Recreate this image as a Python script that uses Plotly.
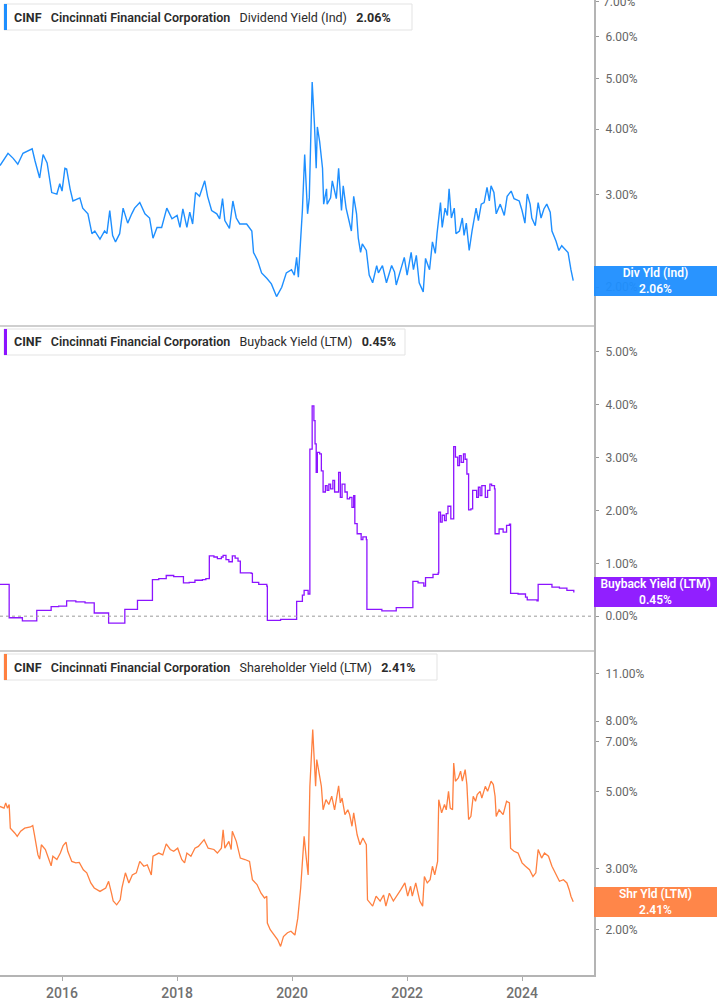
import numpy as np
import pandas as pd
import plotly.graph_objects as go
from plotly.subplots import make_subplots

# values; dates are decimal years
div_dates = [2014.92, 2015.06, 2015.15, 2015.23, 2015.32, 2015.48, 2015.53, 2015.61, 2015.67, 2015.74,
             2015.82, 2015.91, 2015.96, 2016.00, 2016.05, 2016.08, 2016.14, 2016.19, 2016.31, 2016.36,
             2016.45, 2016.52, 2016.57, 2016.66, 2016.74, 2016.78, 2016.83, 2016.86, 2016.88, 2016.93,
             2017.00, 2017.06, 2017.12, 2017.14, 2017.21, 2017.26, 2017.35, 2017.44, 2017.52, 2017.58,
             2017.65, 2017.73, 2017.82, 2017.91, 2018.00, 2018.05, 2018.10, 2018.17, 2018.22, 2018.27,
             2018.32, 2018.39, 2018.48, 2018.53, 2018.60, 2018.69, 2018.74, 2018.79, 2018.83, 2018.91,
             2018.97, 2019.03, 2019.09, 2019.21, 2019.30, 2019.33, 2019.40, 2019.47, 2019.56, 2019.64,
             2019.73, 2019.82, 2019.90, 2019.99, 2020.04, 2020.08, 2020.11, 2020.16, 2020.18, 2020.22,
             2020.25, 2020.27, 2020.30, 2020.34, 2020.35, 2020.39, 2020.42, 2020.44, 2020.48, 2020.53,
             2020.55, 2020.60, 2020.61, 2020.67, 2020.70, 2020.77, 2020.81, 2020.86, 2020.89, 2020.94,
             2021.03, 2021.07, 2021.12, 2021.15, 2021.19, 2021.22, 2021.29, 2021.34, 2021.40, 2021.47,
             2021.50, 2021.57, 2021.64, 2021.73, 2021.78, 2021.81, 2021.90, 2021.95, 2022.00, 2022.07,
             2022.11, 2022.16, 2022.21, 2022.28, 2022.32, 2022.39, 2022.44, 2022.49, 2022.52, 2022.58,
             2022.61, 2022.66, 2022.70, 2022.73, 2022.77, 2022.82, 2022.85, 2022.91, 2022.96, 2022.99,
             2023.03, 2023.08, 2023.13, 2023.20, 2023.24, 2023.29, 2023.34, 2023.39, 2023.43, 2023.46,
             2023.51, 2023.55, 2023.62, 2023.69, 2023.74, 2023.81, 2023.86, 2023.95, 2024.00, 2024.05,
             2024.09, 2024.14, 2024.17, 2024.23, 2024.28, 2024.33, 2024.38, 2024.43, 2024.49, 2024.52,
             2024.59, 2024.64, 2024.69, 2024.76, 2024.80, 2024.85, 2024.89]
div_yield = [3.41, 3.60, 3.52, 3.43, 3.60, 3.67, 3.48, 3.23, 3.58, 3.45,
             3.03, 3.01, 3.15, 3.05, 3.37, 3.36, 3.08, 2.92, 2.96, 2.83,
             2.76, 2.53, 2.56, 2.47, 2.56, 2.53, 2.80, 2.64, 2.51, 2.44,
             2.53, 2.83, 2.71, 2.65, 2.76, 2.83, 2.90, 2.76, 2.71, 2.48,
             2.60, 2.60, 2.83, 2.70, 2.74, 2.60, 2.82, 2.60, 2.78, 2.64,
             3.03, 2.98, 3.19, 2.98, 2.80, 2.76, 2.70, 2.95, 2.68, 2.59,
             2.92, 2.71, 2.64, 2.64, 2.56, 2.33, 2.25, 2.13, 2.08, 2.03,
             1.92, 2.00, 2.13, 2.16, 2.11, 2.28, 2.09, 2.56, 2.80, 3.58,
             3.05, 2.76, 2.96, 4.48, 4.92, 4.08, 3.37, 4.04, 3.79, 3.37,
             2.88, 3.08, 2.88, 2.96, 3.19, 2.95, 3.37, 2.80, 3.12, 2.83,
             2.56, 2.98, 2.76, 2.48, 2.33, 2.42, 2.35, 2.11, 2.04, 2.20,
             2.13, 2.20, 2.04, 2.20, 2.14, 2.02, 2.19, 2.28, 2.11, 2.33,
             2.16, 2.30, 2.04, 1.96, 2.27, 2.16, 2.44, 2.32, 2.53, 2.90,
             2.60, 2.83, 2.74, 3.08, 2.71, 2.83, 2.53, 2.56, 2.71, 2.51,
             2.65, 2.35, 2.56, 2.83, 2.68, 2.88, 2.90, 3.10, 2.92, 3.12,
             3.03, 2.76, 2.88, 2.74, 2.98, 3.05, 2.95, 2.92, 2.80, 2.65,
             3.01, 2.88, 2.71, 2.62, 2.90, 2.71, 2.82, 2.88, 2.78, 2.56,
             2.45, 2.35, 2.40, 2.35, 2.33, 2.16, 2.06]

bb_dates = [2014.92, 2015.08, 2015.31, 2015.56, 2015.81, 2015.94, 2016.08, 2016.24, 2016.40, 2016.56,
            2016.81, 2017.09, 2017.31, 2017.57, 2017.68, 2017.81, 2017.94, 2018.11, 2018.21, 2018.31,
            2018.44, 2018.50, 2018.56, 2018.64, 2018.70, 2018.77, 2018.80, 2018.85, 2018.90, 2018.96,
            2019.01, 2019.06, 2019.10, 2019.29, 2019.31, 2019.42, 2019.56, 2019.57, 2019.80, 2020.08,
            2020.18, 2020.21, 2020.28, 2020.31, 2020.35, 2020.38, 2020.40, 2020.42, 2020.44, 2020.48,
            2020.51, 2020.54, 2020.58, 2020.61, 2020.64, 2020.67, 2020.71, 2020.74, 2020.81, 2020.84,
            2020.87, 2020.92, 2020.96, 2021.00, 2021.04, 2021.07, 2021.09, 2021.13, 2021.20, 2021.23,
            2021.29, 2021.30, 2021.56, 2021.81, 2022.10, 2022.19, 2022.29, 2022.32, 2022.45, 2022.54,
            2022.55, 2022.58, 2022.61, 2022.65, 2022.68, 2022.71, 2022.76, 2022.81, 2022.84, 2022.88,
            2022.91, 2022.94, 2022.98, 2023.01, 2023.04, 2023.07, 2023.11, 2023.14, 2023.21, 2023.24,
            2023.27, 2023.30, 2023.36, 2023.40, 2023.44, 2023.47, 2023.52, 2023.53, 2023.60, 2023.67,
            2023.73, 2023.78, 2023.80, 2023.93, 2024.06, 2024.09, 2024.26, 2024.28, 2024.39, 2024.52,
            2024.65, 2024.78, 2024.90]
bb_yield = [0.60, -0.03, -0.09, 0.11, 0.18, 0.19, 0.29, 0.27, 0.25, 0.06,
            -0.13, 0.13, 0.30, 0.69, 0.71, 0.77, 0.75, 0.63, 0.64, 0.68,
            0.69, 0.71, 1.14, 1.12, 1.09, 1.12, 1.15, 1.07, 1.03, 1.14,
            1.10, 1.04, 0.82, 0.81, 0.64, 0.60, 0.57, -0.08, -0.06, 0.28,
            0.40, 0.49, 0.42, 3.16, 3.98, 3.70, 3.26, 2.72, 3.10, 3.07,
            2.75, 2.35, 2.47, 2.38, 2.50, 2.41, 2.57, 2.35, 2.72, 2.25,
            2.50, 2.35, 2.22, 2.25, 2.06, 2.28, 1.75, 1.56, 1.45, 1.50,
            1.45, 0.13, 0.10, 0.16, 0.66, 0.63, 0.57, 0.73, 0.79, 0.82,
            1.97, 1.78, 1.91, 1.81, 1.94, 2.08, 1.84, 3.21, 3.01, 2.85,
            3.04, 2.91, 3.07, 2.97, 2.69, 2.01, 2.03, 2.38, 2.25, 2.44,
            2.28, 2.47, 2.25, 2.38, 2.50, 2.47, 2.41, 1.56, 1.65, 1.59,
            1.72, 1.74, 0.43, 0.42, 0.36, 0.31, 0.29, 0.60, 0.60, 0.55,
            0.53, 0.49, 0.45]

shr_dates = [2014.92, 2014.99, 2015.02, 2015.05, 2015.08, 2015.10, 2015.18, 2015.22, 2015.28, 2015.35,
             2015.45, 2015.49, 2015.52, 2015.58, 2015.61, 2015.64, 2015.71, 2015.77, 2015.81, 2015.84,
             2015.91, 2015.97, 2016.02, 2016.07, 2016.10, 2016.17, 2016.24, 2016.30, 2016.37, 2016.43,
             2016.50, 2016.56, 2016.66, 2016.76, 2016.81, 2016.86, 2016.89, 2016.95, 2017.01, 2017.04,
             2017.10, 2017.16, 2017.22, 2017.29, 2017.35, 2017.42, 2017.48, 2017.55, 2017.58, 2017.68,
             2017.75, 2017.81, 2017.88, 2017.94, 2018.01, 2018.08, 2018.13, 2018.17, 2018.24, 2018.31,
             2018.37, 2018.47, 2018.54, 2018.64, 2018.70, 2018.77, 2018.80, 2018.83, 2018.90, 2018.94,
             2018.96, 2019.03, 2019.10, 2019.18, 2019.26, 2019.31, 2019.39, 2019.46, 2019.52, 2019.56,
             2019.57, 2019.62, 2019.69, 2019.75, 2019.80, 2019.85, 2019.92, 2019.98, 2020.05, 2020.10,
             2020.15, 2020.18, 2020.21, 2020.25, 2020.28, 2020.31, 2020.35, 2020.36, 2020.38, 2020.41,
             2020.43, 2020.46, 2020.51, 2020.54, 2020.59, 2020.64, 2020.69, 2020.74, 2020.81, 2020.84,
             2020.87, 2020.92, 2020.97, 2021.00, 2021.04, 2021.07, 2021.13, 2021.18, 2021.23, 2021.29,
             2021.31, 2021.40, 2021.46, 2021.53, 2021.59, 2021.63, 2021.69, 2021.76, 2021.82, 2021.89,
             2021.96, 2022.01, 2022.06, 2022.09, 2022.15, 2022.22, 2022.27, 2022.30, 2022.35, 2022.40,
             2022.44, 2022.48, 2022.53, 2022.55, 2022.60, 2022.65, 2022.68, 2022.72, 2022.75, 2022.79,
             2022.81, 2022.84, 2022.89, 2022.93, 2022.96, 2023.01, 2023.04, 2023.07, 2023.11, 2023.15,
             2023.19, 2023.22, 2023.27, 2023.30, 2023.36, 2023.40, 2023.46, 2023.50, 2023.53, 2023.55,
             2023.60, 2023.67, 2023.73, 2023.78, 2023.80, 2023.86, 2023.93, 2024.00, 2024.06, 2024.13,
             2024.19, 2024.24, 2024.28, 2024.34, 2024.39, 2024.46, 2024.52, 2024.59, 2024.65, 2024.72,
             2024.78, 2024.82, 2024.85, 2024.89]
shr_yield = [4.54, 4.49, 4.65, 4.49, 4.60, 3.93, 3.80, 3.72, 3.85, 3.93,
             3.96, 4.00, 3.76, 3.29, 3.20, 3.52, 3.41, 3.22, 3.06, 3.26,
             3.19, 3.33, 3.50, 3.58, 3.37, 3.15, 3.12, 3.13, 2.98, 2.92,
             2.73, 2.64, 2.58, 2.64, 2.76, 2.55, 2.42, 2.36, 2.44, 2.64,
             2.92, 2.73, 2.88, 2.92, 3.15, 3.05, 3.08, 2.88, 3.26, 3.33,
             3.29, 3.54, 3.41, 3.37, 3.44, 3.19, 3.12, 3.33, 3.26, 3.44,
             3.48, 3.64, 3.44, 3.41, 3.33, 3.44, 3.89, 3.44, 3.60, 3.41,
             3.85, 3.60, 3.22, 3.19, 3.15, 2.79, 2.70, 2.55, 2.47, 2.50,
             2.09, 2.00, 1.93, 1.87, 1.79, 1.91, 1.96, 1.98, 1.93, 2.16,
             2.64, 3.12, 3.72, 3.19, 2.88, 5.19, 6.77, 7.57, 6.48, 5.19,
             6.20, 5.80, 5.19, 4.44, 4.75, 4.60, 4.86, 4.44, 5.21, 4.65,
             4.80, 4.30, 4.44, 4.30, 3.98, 4.35, 3.76, 3.52, 3.68, 3.52,
             2.44, 2.34, 2.50, 2.42, 2.52, 2.34, 2.55, 2.42, 2.50, 2.61,
             2.73, 2.50, 2.67, 2.50, 2.73, 2.42, 2.34, 2.85, 2.73, 2.79,
             3.05, 2.88, 3.15, 4.75, 4.35, 4.60, 4.44, 5.02, 4.49, 4.44,
             6.06, 5.37, 5.49, 5.74, 5.37, 5.80, 5.25, 4.16, 4.25, 4.86,
             4.70, 4.91, 5.02, 4.80, 5.19, 5.02, 5.37, 5.25, 4.86, 4.25,
             4.44, 4.30, 4.70, 4.65, 3.44, 3.37, 3.33, 3.12, 3.05, 2.98,
             2.85, 2.92, 3.41, 3.22, 3.33, 3.26, 3.05, 2.88, 2.76, 2.79,
             2.73, 2.61, 2.50, 2.41]

div_ticks = [2, 3, 4, 5, 6, 7]
bb_ticks = [0, 1, 2, 3, 4, 5]
shr_ticks = [2, 3, 5, 7, 8, 11]

BLUE = "#1e8fff"
PURPLE = "#8c14ff"
ORANGE = "#ff8040"
AXIS = "#b4b4b4"


def to_dates(years):
    out = []
    for y in years:
        yr = int(y)
        out.append(pd.Timestamp(yr, 1, 1) + pd.Timedelta(days=(y - yr) * 365.25))
    return out


fig = make_subplots(rows=3, cols=1, shared_xaxes=True, vertical_spacing=0)

fig.add_trace(go.Scatter(x=to_dates(div_dates), y=div_yield, mode="lines",
                         line=dict(color=BLUE, width=1.4), hoverinfo="x+y"), row=1, col=1)
fig.add_trace(go.Scatter(x=to_dates(bb_dates), y=bb_yield, mode="lines",
                         line=dict(color=PURPLE, width=1.3, shape="hv"), hoverinfo="x+y"), row=2, col=1)
fig.add_trace(go.Scatter(x=to_dates(shr_dates), y=shr_yield, mode="lines",
                         line=dict(color=ORANGE, width=1.3), hoverinfo="x+y"), row=3, col=1)

yax = dict(
    side="right",
    showgrid=False,
    zeroline=False,
    showline=True,
    linecolor=AXIS,
    linewidth=2,
    ticks="outside",
    ticklen=3,
    tickwidth=1,
    tickcolor="#999999",
    ticklabelstandoff=4,
    tickfont=dict(family="Roboto", size=12, color="#666666"),
    automargin=False,
)
fig.update_yaxes(**yax)
fig.update_yaxes(type="log", range=[np.log10(1.695), np.log10(7.05)],
                 tickvals=div_ticks, ticktext=["%.2f%%" % v for v in div_ticks], row=1, col=1)
fig.update_yaxes(type="linear", range=[-0.64, 5.51],
                 tickvals=bb_ticks, ticktext=["%.2f%%" % v for v in bb_ticks], row=2, col=1)
fig.update_yaxes(type="log", range=[np.log10(1.48), np.log10(12.85)],
                 tickvals=shr_ticks, ticktext=["%.2f%%" % v for v in shr_ticks], row=3, col=1)

fig.update_xaxes(
    type="date",
    range=["2014-12-03", "2025-04-02"],
    showgrid=False,
    zeroline=False,
    showline=True,
    linecolor="#cfcfcf",
    linewidth=1.5,
    ticks="",
    showticklabels=False,
)
fig.update_xaxes(
    showline=True, linecolor=AXIS, linewidth=2,
    ticks="outside", ticklen=4, tickcolor="#aaaaaa",
    showticklabels=True, tick0="2016-01-01", dtick="M24", tickformat="%Y",
    tickfont=dict(family="Roboto", size=14, color="#707070", weight=500),
    row=3, col=1,
)

W, H = 594.0, 975.0
sp = "\u00a0" * 3

# dotted zero line of the buyback panel
fig.add_shape(type="line", xref="paper", yref="y2", x0=0, x1=1, y0=0, y1=0,
              line=dict(color="#9a9a9a", width=1, dash="dot"))

# top tick label of the dividend panel, which plotly drops at the very edge
fig.add_annotation(xref="paper", yref="y", x=1, y=np.log10(div_ticks[-1]),
                   xanchor="left", yanchor="middle", xshift=7, showarrow=False,
                   text="%.2f%%" % div_ticks[-1],
                   font=dict(family="Roboto", size=12, color="#666666"))

# title boxes top-left of each panel
panels = [
    (4, 412, 4, 30, BLUE, "Dividend Yield (Ind)", div_yield[-1]),
    (4, 405, 329, 355, PURPLE, "Buyback Yield (LTM)", bb_yield[-1]),
    (4, 437, 654, 680, ORANGE, "Shareholder Yield (LTM)", shr_yield[-1]),
]
for x0, x1, y0, y1, col, name, last in panels:
    fig.add_shape(type="rect", xref="paper", yref="paper",
                  x0=x0 / W, x1=x1 / W, y0=1 - y1 / H, y1=1 - y0 / H,
                  fillcolor="white", line=dict(color="#e3e3e3", width=1), layer="above")
    fig.add_shape(type="rect", xref="paper", yref="paper",
                  x0=x0 / W, x1=(x0 + 3) / W, y0=1 - y1 / H, y1=1 - y0 / H,
                  fillcolor=col, line=dict(width=0), layer="above")
    fig.add_annotation(
        xref="paper", yref="paper", x=12 / W, y=1 - (y0 + y1) / 2 / H,
        xanchor="left", yanchor="middle", showarrow=False,
        text="<b>CINF</b>" + sp + "<span style='font-weight:600'>Cincinnati Financial Corporation</span>"
             + sp + name + sp + "<b>%.2f%%</b>" % last,
        font=dict(family="Roboto", size=12.5, color="#2b2b2b"),
    )

# last-value tags on the right axis
tags = [
    ("y", np.log10(div_yield[-1]), BLUE, "Div Yld (Ind)", div_yield[-1]),
    ("y2", bb_yield[-1], PURPLE, "Buyback Yield (LTM)", bb_yield[-1]),
    ("y3", np.log10(shr_yield[-1]), ORANGE, "Shr Yld (LTM)", shr_yield[-1]),
]
for yref, ypos, col, label, last in tags:
    fig.add_annotation(
        xref="paper", yref=yref, x=1, y=ypos, xanchor="left", yanchor="middle",
        showarrow=False, width=123, height=30, align="center",
        bgcolor=col, borderpad=0, borderwidth=0, opacity=0.95,
        text=label + "<br>%.2f%%" % last,
        font=dict(family="Roboto", size=12, color="white", weight=600),
    )

fig.update_layout(
    width=717,
    height=1005,
    margin=dict(l=0, r=123, t=0, b=30, pad=0),
    paper_bgcolor="white",
    plot_bgcolor="white",
    showlegend=False,
    hovermode="closest",
)

fig.write_html("out.html", config={"displayModeBar": False},
               post_script="document.body.style.margin='0';")
